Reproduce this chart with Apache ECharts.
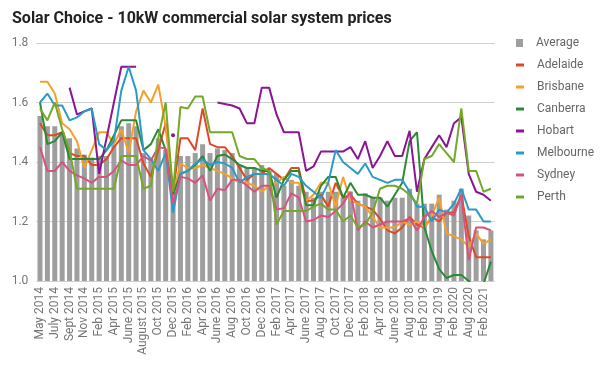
<!DOCTYPE html>
<html><head><meta charset="utf-8">
<script src="https://cdn.jsdelivr.net/npm/echarts@6/dist/echarts.min.js"></script>
<style>html,body{margin:0;padding:0;background:#fff}#c{width:606px;height:367px}</style>
</head><body><div id="c"></div>
<script>
const categories = ['May 2014','June 2014','July 2014','Aug 2014','Sept 2014','Oct 2014','Nov 2014','Dec 2014','Feb 2015','Mar 2015','Apr 2015','May 2015','June 2015','July 2015','August 2015','Sept 2015','Oct 2015','Nov 2015','Dec 2015','Jan 2016','Feb 2016','Mar 2016','Apr 2016','May 2016','June 2016','July 2016','Aug 2016','Sept 2016','Oct 2016','Nov 2016','Dec 2016','Jan 2017','Feb 2017','Mar 2017','Apr 2017','May 2017','June 2017','July 2017','Aug 2017','Sept 2017','Oct 2017','Nov 2017','Dec 2017','Jan 2018','Feb 2018','Mar 2018','Apr 2018','May 2018','June 2018','July 2018','Aug 2018','Nov 2018','Feb 2019','May 2019','Aug 2019','Nov 2019','Feb 2020','May 2020','Aug 2020','Nov 2020','Feb 2021','May 2021'];

const average = [1.555,1.52,1.52,1.50,1.48,1.445,1.425,1.415,1.42,1.42,1.46,1.52,1.53,1.52,1.43,1.41,1.48,1.44,1.34,1.42,1.42,1.43,1.46,1.43,1.445,1.44,1.43,1.39,1.38,1.38,1.39,1.37,1.36,1.32,1.34,1.32,1.30,1.28,1.30,1.30,1.30,1.28,1.30,1.27,1.295,1.28,1.28,1.27,1.28,1.28,1.31,1.26,1.26,1.26,1.29,1.24,1.27,1.31,1.22,1.17,1.14,1.17];
const adelaide = [1.53,1.49,1.49,1.50,1.43,1.42,1.42,1.39,1.39,1.41,1.45,1.48,1.48,1.48,1.395,1.35,1.44,1.53,1.30,1.48,1.48,1.44,1.58,1.46,1.45,1.45,1.42,1.38,1.34,1.36,1.36,1.38,1.36,1.34,1.38,1.38,1.27,1.27,1.29,1.25,1.33,1.28,1.29,1.26,1.25,1.24,1.21,1.17,1.16,1.18,1.215,1.19,1.18,1.215,1.20,1.23,1.23,1.29,1.15,1.08,1.08,1.08];
const brisbane = [1.67,1.67,1.63,1.53,1.51,1.47,1.38,1.44,1.50,1.50,1.46,1.51,1.43,1.57,1.64,1.60,1.66,1.52,1.29,1.395,1.38,1.38,1.39,1.38,1.37,1.36,1.345,1.33,1.33,1.32,1.30,1.32,1.33,1.35,1.33,1.33,1.27,1.29,1.33,1.33,1.25,1.35,1.27,1.26,1.25,1.215,1.18,1.18,1.18,1.20,1.19,1.20,1.18,1.22,1.28,1.16,1.15,1.14,1.115,1.16,1.125,1.14];
const canberra = [1.60,1.46,1.47,1.50,1.41,1.41,1.41,1.41,1.41,1.44,1.49,1.54,1.54,1.54,1.44,1.46,1.51,1.44,1.29,1.36,1.37,1.39,1.42,1.37,1.42,1.425,1.41,1.39,1.38,1.38,1.37,1.37,1.28,1.34,1.37,1.37,1.255,1.255,1.32,1.35,1.35,1.28,1.33,1.29,1.29,1.28,1.28,1.25,1.29,1.33,1.47,1.50,1.18,1.10,1.04,1.01,1.02,1.02,1.00,0.97,0.99,1.065];
const hobart = [null,null,null,null,1.65,1.56,1.57,1.58,1.36,1.48,1.60,1.72,1.72,1.72,null,null,null,null,1.49,null,null,null,null,null,1.60,1.595,1.59,1.58,1.53,1.53,1.65,1.65,1.56,1.50,1.50,1.50,1.37,1.385,1.435,1.435,1.435,1.435,1.45,1.41,1.47,1.38,1.42,1.47,1.42,1.42,1.505,1.30,1.41,1.45,1.49,1.45,1.53,1.55,1.36,1.30,1.29,1.27];
const melbourne = [1.60,1.63,1.59,1.59,1.54,1.55,1.57,1.58,1.46,1.44,1.47,1.64,1.72,1.64,1.44,1.41,1.37,1.43,1.23,1.36,1.37,1.395,1.41,1.39,1.40,1.395,1.38,1.33,1.35,1.36,1.36,1.36,1.34,1.32,1.36,1.35,1.32,1.30,1.28,1.33,1.44,1.40,1.38,1.36,1.395,1.35,1.34,1.33,1.34,1.34,1.30,1.25,1.25,1.20,1.24,1.23,1.26,1.31,1.24,1.24,1.20,1.20];
const sydney = [1.45,1.37,1.37,1.40,1.37,1.355,1.345,1.33,1.35,1.35,1.37,1.405,1.39,1.39,1.42,1.405,1.45,1.445,1.26,1.35,1.345,1.33,1.355,1.27,1.31,1.305,1.34,1.34,1.32,1.30,1.32,1.32,1.24,1.245,1.295,1.28,1.20,1.205,1.22,1.215,1.235,1.26,1.30,1.17,1.20,1.18,1.19,1.20,1.20,1.20,1.21,1.17,1.215,1.235,1.215,1.23,1.22,1.29,1.07,1.18,1.18,1.17];
const perth = [1.58,1.54,1.60,1.51,1.44,1.31,1.31,1.31,1.31,1.31,1.31,1.42,1.42,1.42,1.31,1.32,1.48,1.60,1.30,1.585,1.58,1.62,1.62,1.50,1.50,1.50,1.50,1.42,1.41,1.41,1.38,1.37,1.19,1.235,1.235,1.235,1.235,1.25,1.26,1.24,1.24,1.20,1.22,1.18,1.19,1.23,1.31,1.32,1.32,1.31,1.29,1.26,1.41,1.42,1.46,1.43,1.40,1.58,1.37,1.37,1.30,1.31];
const yTicks = [1.0, 1.2, 1.4, 1.6, 1.8];

const lineSeries = [
  ['Adelaide', adelaide, '#dc4a26'],
  ['Brisbane', brisbane, '#f5a02a'],
  ['Canberra', canberra, '#2b8a36'],
  ['Hobart', hobart, '#8b1594'],
  ['Melbourne', melbourne, '#2a9bc8'],
  ['Sydney', sydney, '#d6527f'],
  ['Perth', perth, '#74a82b']
];

function isolated(arr, i) {
  return arr[i] != null && (i === 0 || arr[i-1] == null) && (i === arr.length-1 || arr[i+1] == null);
}

const series = [{
  name: 'Average', type: 'bar', data: average, barWidth: 5,
  itemStyle: { color: '#9e9e9e' }, z: 1
}].concat(lineSeries.map(([name, arr, color]) => ({
  name, type: 'line', data: arr, color,
  lineStyle: { width: 2, color },
  showSymbol: true, showAllSymbol: true, symbol: 'circle',
  symbolSize: (v, p) => isolated(arr, p.dataIndex) ? 4 : 0,
  itemStyle: { color },
  connectNulls: false, z: 2
})));

const legendText = { fontFamily: 'Roboto', fontSize: 12, color: '#666', padding: [0, 0, 0, 8] };

const chart = echarts.init(document.getElementById('c'), null, { renderer: 'canvas' });
chart.setOption({
  animation: false,
  textStyle: { fontFamily: 'Roboto' },
  title: {
    text: 'Solar Choice - 10kW commercial solar system prices',
    left: 7, top: 6,
    textStyle: { fontFamily: 'Roboto', fontWeight: 'bold', fontSize: 16, color: '#222' }
  },
  legend: [{
    orient: 'vertical', left: 516, top: 37, padding: 0,
    itemWidth: 7, itemHeight: 8,
    textStyle: legendText,
    data: [{ name: 'Average', icon: 'rect' }]
  }, {
    orient: 'vertical', left: 516, top: 59, padding: 0, itemGap: 10,
    itemWidth: 8, itemHeight: 3,
    textStyle: legendText,
    data: lineSeries.map(s => ({ name: s[0], icon: 'rect' }))
  }],
  grid: { left: 36.3, right: 111.4, top: 43, bottom: 86 },
  xAxis: {
    type: 'category', data: categories,
    axisLine: { show: false }, axisTick: { show: false },
    axisLabel: { interval: 1, rotate: 90, fontSize: 12, color: '#757575', fontFamily: 'Roboto', margin: 6 }
  },
  yAxis: {
    type: 'value', min: yTicks[0], max: yTicks[yTicks.length-1], interval: 0.2,
    axisLine: { show: false }, axisTick: { show: false },
    axisLabel: { fontSize: 12, color: '#757575', fontFamily: 'Roboto', margin: 8, formatter: v => v.toFixed(1) },
    splitLine: { lineStyle: { color: '#cfcfcf' } }
  },
  series
});
</script>
</body></html>
